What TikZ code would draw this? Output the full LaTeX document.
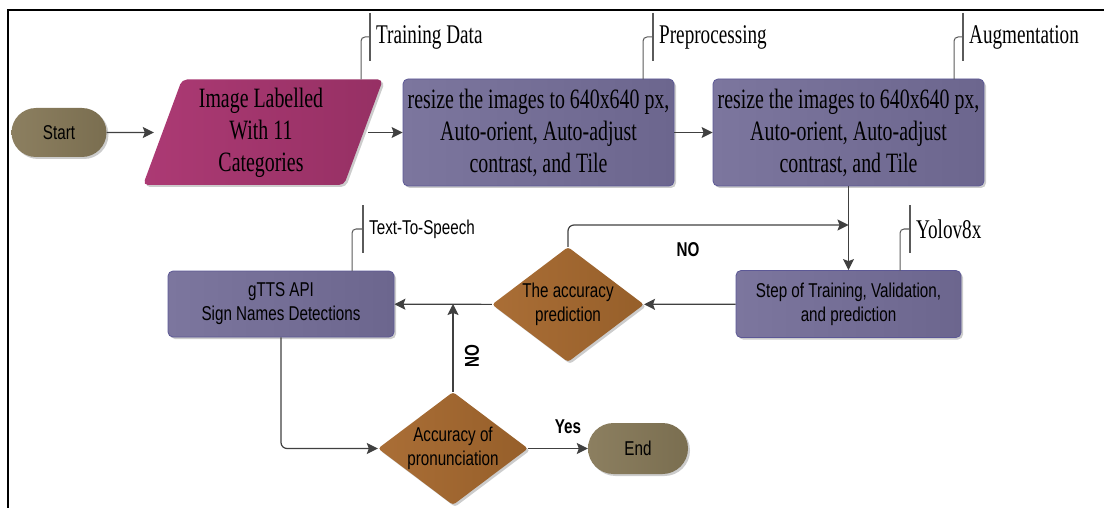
\documentclass[tikz,border=0pt]{standalone}
\usepackage{fontspec}
\usetikzlibrary{shapes.geometric,shapes.misc,arrows.meta,shadows}
\newfontfamily\serifc{Liberation Serif}[FakeStretch=0.71]
\newfontfamily\sansc{Liberation Sans}[FakeStretch=0.76]
\definecolor{termA}{RGB}{140,127,96}
\definecolor{termB}{RGB}{122,110,80}
\definecolor{dataA}{RGB}{172,58,116}
\definecolor{dataB}{RGB}{150,48,100}
\definecolor{procA}{RGB}{124,118,158}
\definecolor{procB}{RGB}{108,102,142}
\definecolor{procedge}{RGB}{92,88,150}
\definecolor{decA}{RGB}{170,110,54}
\definecolor{decB}{RGB}{150,95,42}
\definecolor{wire}{RGB}{64,64,64}
\definecolor{tagline}{RGB}{90,90,90}
\begin{document}
\begin{tikzpicture}[x=1pt,y=-1pt,
  softshadow/.style={drop shadow={shadow xshift=2pt,shadow yshift=-2pt,fill=black,opacity=0.2}},
  boxfont/.style={font=\serifc\fontsize{28}{32}\selectfont},
  tagfont/.style={font=\serifc\fontsize{27}{31}\selectfont},
  plainfont/.style={font=\sansc\fontsize{20}{24}\selectfont},
  terminal/.style={rounded rectangle, left color=termA, right color=termB, softshadow,
    minimum width=95pt, minimum height=49pt, inner sep=0pt, plainfont, text=black},
  process/.style={rectangle, rounded corners=5pt, left color=procA, right color=procB,
    draw=procedge, line width=0.8pt, softshadow, align=center, inner sep=0pt, text=black},
  decision/.style={diamond, aspect=1.32, rounded corners=3pt, left color=decA, right color=decB,
    softshadow, align=center, inner sep=0pt, plainfont, text=black},
  arrow/.style={draw=wire, line width=1.2pt, -{Stealth[length=11pt,width=11pt,inset=2pt]}},
  flag/.style={font=\sansc\bfseries\fontsize{20}{24}\selectfont, inner sep=0pt},
  tagstem/.style={draw=tagline, line width=1pt, rounded corners=4pt},
  tagbar/.style={draw=tagline, line width=1.3pt},
  tagtext/.style={anchor=west, inner sep=0pt, text=black}
]
\useasboundingbox (0,0) rectangle (1104,508);

% frame
\draw[line width=2pt] (7.7,508) -- (7.7,10) -- (1104,10);

% first row
\node[terminal] (start) at (59,132.5) {Start};
\shade[left color=dataA, right color=dataB, rounded corners=5pt, softshadow]
  (143,185) -- (182,79.5) -- (383,79.5) -- (344,185) -- cycle;
\node[boxfont, align=center, minimum width=214pt, minimum height=106pt, inner sep=0pt] (img)
  at (261,132.5) {Image Labelled\\With 11\\Categories};
\node[process, boxfont, minimum width=271pt, minimum height=107pt] (prep) at (538.5,132.5)
  {resize the images to 640x640 px,\\Auto-orient, Auto-adjust\\contrast, and Tile};
\node[process, boxfont, minimum width=271pt, minimum height=107pt] (aug) at (848.5,132.5)
  {resize the images to 640x640 px,\\Auto-orient, Auto-adjust\\contrast, and Tile};

% second row
\node[process, plainfont, minimum width=225pt, minimum height=67pt] (train) at (848.5,304)
  {Step of Training, Validation,\\and prediction};
\node[decision, minimum width=152pt, minimum height=115pt] (acc) at (568,304.5)
  {The accuracy\\prediction};
\node[process, plainfont, minimum width=226pt, minimum height=66pt] (gtts) at (281,304)
  {gTTS API\\Sign Names Detections};

% third row
\node[decision, minimum width=150pt, minimum height=113pt] (pron) at (453,448.5)
  {Accuracy of\\pronunciation};
\node[terminal, minimum width=100pt, minimum height=51pt] (finish) at (638,448.5) {End};

% connectors
\coordinate (join) at (848.5,225);
\draw[arrow] (start) -- (img.west);
\draw[arrow] (img.east) -- (prep.west);
\draw[arrow] (prep) -- (aug);
\draw[arrow] (aug) -- (train);
\draw[arrow] (train) -- (acc);
\draw[arrow, rounded corners=6pt] (acc.north) |- (join);
\draw[arrow] (acc) -- (gtts);
\draw[arrow] (pron.north) -- (pron.north |- gtts.east);
\draw[arrow, rounded corners=6pt] (gtts.south) |- (pron.west);
\draw[arrow] (pron) -- (finish);

% branch labels
\node[flag] (nolabel) at (688,250) {NO};
\node[flag, rotate=90] (onlabel) at (472,356) {NO};
\node[flag] (yeslabel) at (568,427) {Yes};

% annotations
\coordinate (tdfoot) at (361,79.5);
\coordinate (tdbar) at (370,37);
\node[tagtext, tagfont] (tdtext) at (376,37) {Training Data};
\draw[tagstem] (tdfoot) |- (tdbar);
\draw[tagbar] (tdbar) ++(0,-24) -- ++(0,48);

\coordinate (ppfoot) at (643,79.5);
\coordinate (ppbar) at (653,37);
\node[tagtext, tagfont] (pptext) at (659,37) {Preprocessing};
\draw[tagstem] (ppfoot) |- (ppbar);
\draw[tagbar] (ppbar) ++(0,-24) -- ++(0,48);

\coordinate (aufoot) at (954,79.5);
\coordinate (aubar) at (963,37);
\node[tagtext, tagfont] (autext) at (969,37) {Augmentation};
\draw[tagstem] (aufoot) |- (aubar);
\draw[tagbar] (aubar) ++(0,-24) -- ++(0,48);

\coordinate (yofoot) at (900,270.5);
\coordinate (yobar) at (910,229);
\node[tagtext, tagfont] (yotext) at (916,229) {Yolov8x};
\draw[tagstem] (yofoot) |- (yobar);
\draw[tagbar] (yobar) ++(0,-23.5) -- ++(0,47);

\coordinate (tsfoot) at (352,271);
\coordinate (tsbar) at (363,229);
\node[tagtext, plainfont] (tstext) at (369,229) {Text-To-Speech};
\draw[tagstem] (tsfoot) |- (tsbar);
\draw[tagbar] (tsbar) ++(0,-23.5) -- ++(0,47);
\end{tikzpicture}
\end{document}
